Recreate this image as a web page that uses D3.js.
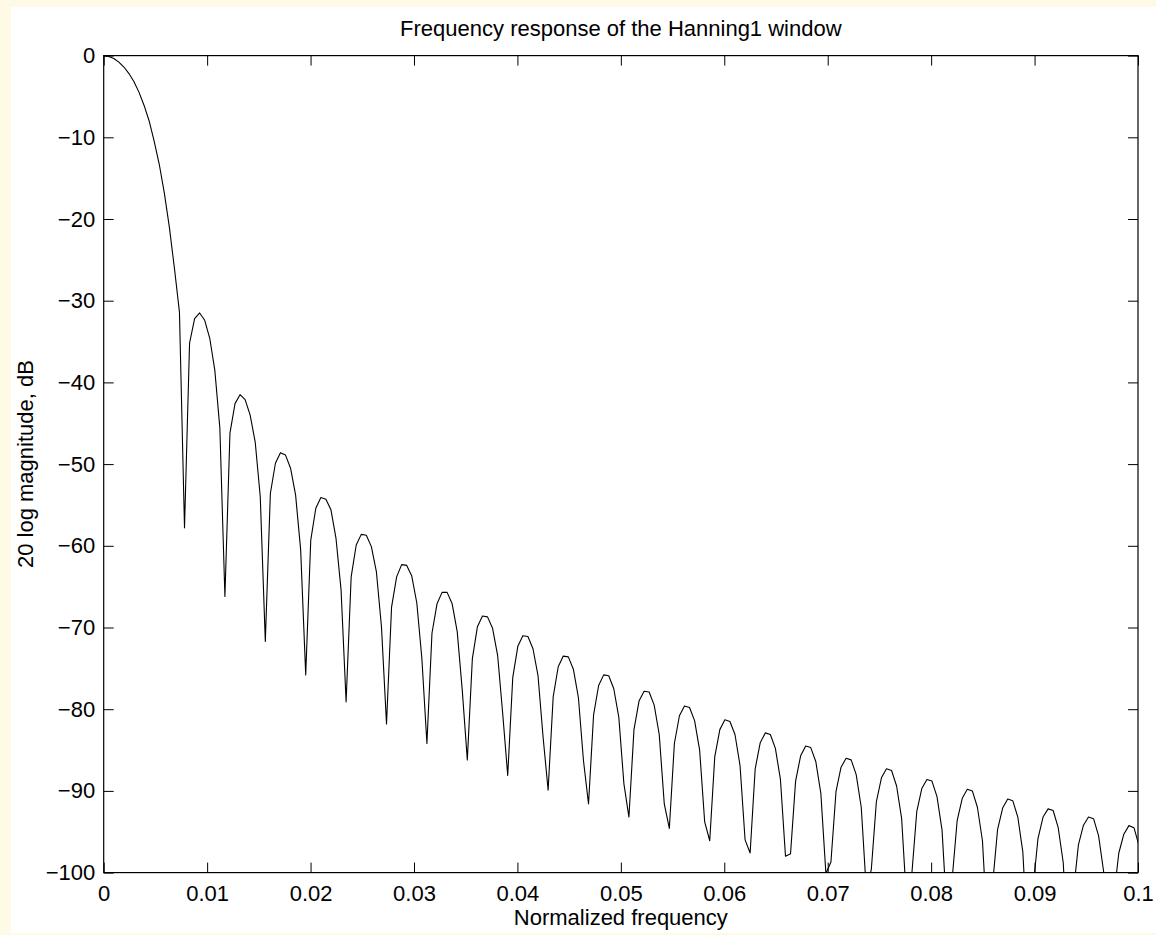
<!DOCTYPE html>
<html>
<head>
<meta charset="utf-8">
<script src="https://cdn.jsdelivr.net/npm/d3@7"></script>
<style>
  body { margin: 0; background: #fffae6; }
  svg { display: block; font-family: "Liberation Sans", Arial, sans-serif; }
</style>
</head>
<body>
<svg id="chart" width="1156" height="935"></svg>
<script>
// Sampling step of the spectrum (normalized frequency)
let freqStep = 1 / 2048;

// Main lobe, bins 0..16 (dB)
let mainLobeDb = [0, -0.1, -0.35, -0.8, -1.4, -2.2, -3.2, -4.5, -6.1, -8.0, -10.5, -13.3, -16.8, -21.0, -26.0, -31.4, -57.8];

// Side lobes, bins 17..205 (dB)
let sideLobeDb = [
    -35.2, -32.2, -31.5, -32.4, -34.6, -38.5, -45.6, -66.2,
    -46.2, -42.6, -41.5, -42.1, -44.0, -47.3, -54.0, -71.7,
    -53.6, -49.9, -48.6, -48.9, -50.5, -53.8, -60.5, -75.8,
    -59.3, -55.4, -54.1, -54.3, -55.6, -59.1, -65.4, -79.1,
    -63.8, -59.9, -58.6, -58.7, -60.1, -63.2, -69.9, -81.8,
    -67.5, -63.8, -62.3, -62.4, -63.7, -67.0, -73.8, -84.2,
    -70.7, -67.1, -65.7, -65.7, -67.1, -70.5, -77.7, -86.2,
    -73.8, -69.9, -68.6, -68.7, -70.1, -73.4, -80.5, -88.1,
    -76.1, -72.3, -71.0, -71.1, -72.6, -75.9, -83.4, -89.9,
    -78.5, -74.8, -73.5, -73.6, -75.1, -78.6, -86.3, -91.6,
    -80.7, -77.1, -75.8, -75.9, -77.5, -81.0, -89.1, -93.2,
    -82.5, -79.0, -77.8, -77.9, -79.5, -83.1, -91.6, -94.6,
    -84.2, -80.8, -79.6, -79.8, -81.4, -85.0, -93.8, -96.1,
    -85.8, -82.5, -81.3, -81.5, -83.1, -86.9, -96.0, -97.6,
    -87.3, -84.1, -82.9, -83.1, -84.8, -88.6, -98.0, -97.7,
    -88.8, -85.7, -84.5, -84.7, -86.4, -90.3, -100.1, -98.7,
    -90.1, -87.1, -86.0, -86.2, -88.0, -92.0, -102.1, -99.6,
    -91.3, -88.4, -87.3, -87.5, -89.4, -93.4, -103.8, -100.3,
    -92.5, -89.7, -88.6, -88.8, -90.7, -94.8, -105.5, -100.8,
    -93.6, -90.9, -89.8, -90.0, -92.0, -96.1, -107.3, -101.5,
    -94.7, -92.1, -91.0, -91.2, -93.2, -97.5, -109.0, -102.0,
    -95.8, -93.2, -92.2, -92.4, -94.5, -98.8, -110.7, -102.5,
    -96.6, -94.2, -93.2, -93.4, -95.5, -99.9, -112.0, -103.0,
    -97.6, -95.3, -94.25, -94.5, -96.7
];

let xTicks = [0, 0.01, 0.02, 0.03, 0.04, 0.05, 0.06, 0.07, 0.08, 0.09, 0.1];
let xTickLabels = ["0", "0.01", "0.02", "0.03", "0.04", "0.05", "0.06", "0.07", "0.08", "0.09", "0.1"];
let yTicks = [0, -10, -20, -30, -40, -50, -60, -70, -80, -90, -100];

let titre = "Frequency response of the Hanning1 window";
let xLabel = "Normalized frequency";
let yLabel = "20 log magnitude, dB";

let data = mainLobeDb.concat(sideLobeDb).map((v, i) => ({ f: i * freqStep, db: v }));

let gauche = 103.7, droite = 1138, haut = 55.6, bas = 872.6;
let fontSize = 22;

let x = d3.scaleLinear().domain([0, 0.1]).range([gauche, droite]);
let y = d3.scaleLinear().domain([-100, 0]).range([bas, haut]);

let svg = d3.select("#chart");

// white figure area
svg.append("rect")
    .attr("x", 11).attr("y", 7)
    .attr("width", 1145).attr("height", 926)
    .attr("fill", "white");

svg.append("clipPath")
    .attr("id", "zone")
    .append("rect")
    .attr("x", gauche).attr("y", haut)
    .attr("width", droite - gauche).attr("height", bas - haut);

// the curve
svg.append("path")
    .datum(data)
    .attr("clip-path", "url(#zone)")
    .attr("fill", "none")
    .attr("stroke", "black")
    .attr("stroke-width", 1.1)
    .attr("stroke-linejoin", "round")
    .attr("d", d3.line().x(d => x(d.f)).y(d => y(d.db)));

// axes, ticks pointing inward
svg.append("g")
    .attr("transform", `translate(0,${bas})`)
    .call(d3.axisBottom(x).tickValues(xTicks).tickFormat((d, i) => xTickLabels[i])
        .tickSizeInner(-10).tickSizeOuter(0).tickPadding(12.8))
    .attr("font-size", fontSize).attr("font-family", null);

svg.append("g")
    .attr("transform", `translate(0,${haut})`)
    .call(d3.axisTop(x).tickValues(xTicks).tickFormat("").tickSizeInner(-10).tickSizeOuter(0));

svg.append("g")
    .attr("transform", `translate(${gauche},0)`)
    .call(d3.axisLeft(y).tickValues(yTicks).tickFormat(d3.format("d"))
        .tickSizeInner(-10).tickSizeOuter(0).tickPadding(8.5))
    .attr("font-size", fontSize).attr("font-family", null);

svg.append("g")
    .attr("transform", `translate(${droite},0)`)
    .call(d3.axisRight(y).tickValues(yTicks).tickFormat("").tickSizeInner(-10).tickSizeOuter(0));

svg.selectAll(".domain").remove();
svg.selectAll(".tick text").attr("fill", "black");

// box around the plot
svg.append("rect")
    .attr("x", gauche).attr("y", haut)
    .attr("width", droite - gauche).attr("height", bas - haut)
    .attr("fill", "none")
    .attr("stroke", "black")
    .attr("stroke-width", 1.2);

// title and labels
svg.append("text")
    .attr("x", (gauche + droite) / 2).attr("y", 36)
    .attr("text-anchor", "middle")
    .attr("font-size", fontSize)
    .text(titre);

svg.append("text")
    .attr("x", (gauche + droite) / 2).attr("y", 925)
    .attr("text-anchor", "middle")
    .attr("font-size", fontSize)
    .text(xLabel);

svg.append("text")
    .attr("transform", `translate(33,${(haut + bas) / 2}) rotate(-90)`)
    .attr("text-anchor", "middle")
    .attr("font-size", fontSize)
    .text(yLabel);
</script>
</body>
</html>
